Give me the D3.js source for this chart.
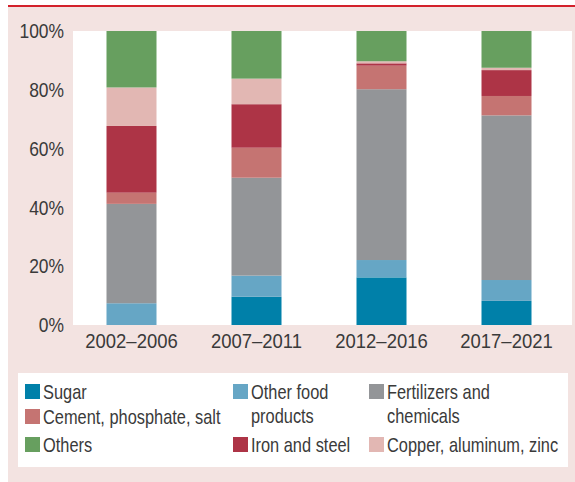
<!DOCTYPE html>
<html>
<head>
<meta charset="utf-8">
<script src="https://cdn.jsdelivr.net/npm/d3@7"></script>
<style>
  body { margin: 0; background: #fff; }
  svg text { font-family: "Liberation Sans", Arial, sans-serif; fill: #3a3a3a; }
</style>
</head>
<body>
<svg width="575" height="482"></svg>
<script>
// periods on the x axis
const periods = ['2002\u20132006', '2007\u20132011', '2012\u20132016', '2017\u20132021'];

// shares (%) per period, bottom to top of each bar
const sugar       = [0.0, 9.6, 16.2, 8.2];
const otherFood   = [7.4, 7.2, 5.9, 7.1];
const fertilizers = [33.8, 33.3, 58.1, 56.0];
const cement      = [3.8, 10.2, 8.0, 6.6];
const ironSteel   = [22.7, 14.8, 0.8, 8.8];
const copper      = [13.1, 8.7, 0.7, 0.8];
const others      = [19.2, 16.2, 10.3, 12.5];

const yTicks = [0, 20, 40, 60, 80, 100];

const seriesNames = ['Sugar', 'Other food products', 'Fertilizers and chemicals',
  'Cement, phosphate, salt', 'Iron and steel', 'Copper, aluminum, zinc', 'Others'];
const seriesValues = [sugar, otherFood, fertilizers, cement, ironSteel, copper, others];
const colors = ['#0080a9', '#66a6c5', '#939598', '#c57472', '#ad3446', '#e2b7b3', '#679f5f'];

// build rows for d3.stack
const table = periods.map((p, i) => {
  const row = { period: p };
  seriesNames.forEach((s, j) => row[s] = seriesValues[j][i]);
  return row;
});

// no narrow font installed -> squeeze the regular one horizontally
const squeezeY = 0.83, squeezeX = 0.88, squeezeLeg = 0.82;

const svg = d3.select('svg');

// background panel + red rule on top
svg.append('rect').attr('x', 8).attr('y', 7).attr('width', 567).attr('height', 475).attr('fill', '#f3e3e1');
svg.append('rect').attr('x', 8).attr('y', 5).attr('width', 567).attr('height', 2).attr('fill', '#d3212b');

const plot = { left: 73, right: 572, top: 31, bottom: 325 };
svg.append('rect')
  .attr('x', plot.left).attr('y', plot.top)
  .attr('width', plot.right - plot.left).attr('height', plot.bottom - plot.top)
  .attr('fill', '#fff');

const xScale = d3.scaleBand().domain(periods).range([69, 569]).paddingInner(0.6).paddingOuter(0.3);
const yScale = d3.scaleLinear().domain([0, 100]).range([plot.bottom, plot.top]);

const stacked = d3.stack().keys(seriesNames)(table);

svg.append('g')
  .selectAll('g')
  .data(stacked)
  .join('g')
  .attr('fill', (d, i) => colors[i])
  .selectAll('rect')
  .data(d => d)
  .join('rect')
  .attr('x', d => xScale(d.data.period))
  .attr('width', xScale.bandwidth())
  .attr('y', d => yScale(d[1]))
  .attr('height', d => yScale(d[0]) - yScale(d[1]));

// y axis labels (no axis line)
const yAxis = svg.append('g')
  .attr('transform', `translate(${plot.left},0)`)
  .call(d3.axisLeft(yScale).tickValues(yTicks).tickFormat(d => d + '%').tickSize(0));
yAxis.select('.domain').remove();
yAxis.selectAll('text')
  .style('font-size', '21px')
  .attr('fill', '#3a3a3a')
  .attr('x', -9 / squeezeY)
  .attr('transform', `scale(${squeezeY},1)`);

// x axis labels
const xAxis = svg.append('g')
  .attr('transform', `translate(0,${plot.bottom})`)
  .call(d3.axisBottom(xScale).tickSize(0).tickPadding(8));
xAxis.select('.domain').remove();
xAxis.selectAll('text')
  .style('font-size', '21px')
  .attr('fill', '#3a3a3a')
  .attr('transform', `scale(${squeezeX},1)`);

// legend box
svg.append('rect').attr('x', 18).attr('y', 373).attr('width', 550).attr('height', 94).attr('fill', '#fff');

const colX = [25, 233, 369];
const rowY = [384, 409, 437];
const legendItems = [
  { s: 0, col: 0, row: 0, lines: ['Sugar'] },
  { s: 1, col: 1, row: 0, lines: ['Other food', 'products'] },
  { s: 2, col: 2, row: 0, lines: ['Fertilizers and', 'chemicals'] },
  { s: 3, col: 0, row: 1, lines: ['Cement, phosphate, salt'] },
  { s: 6, col: 0, row: 2, lines: ['Others'] },
  { s: 4, col: 1, row: 2, lines: ['Iron and steel'] },
  { s: 5, col: 2, row: 2, lines: ['Copper, aluminum, zinc'] }
];

const leg = svg.append('g').selectAll('g').data(legendItems).join('g')
  .attr('transform', d => `translate(${colX[d.col]},${rowY[d.row]})`);
leg.append('rect').attr('width', 15).attr('height', 15).attr('fill', d => colors[d.s]);
leg.append('text')
  .attr('transform', `scale(${squeezeLeg},1)`)
  .style('font-size', '20px')
  .selectAll('tspan')
  .data(d => d.lines)
  .join('tspan')
  .attr('x', 18 / squeezeLeg)
  .attr('y', (d, i) => 15 + i * 24.5)
  .text(d => d);
</script>
</body>
</html>
